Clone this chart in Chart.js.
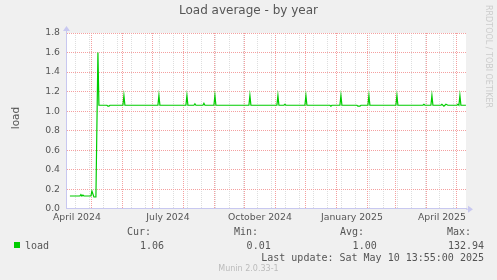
<!DOCTYPE html>
<html>
<head>
<meta charset="utf-8">
<script src="https://cdn.jsdelivr.net/npm/chart.js@4.4.1/dist/chart.umd.min.js"></script>
<style>
  html, body { margin: 0; padding: 0; background: #f0f0f0; }
  #wrap { position: relative; width: 497px; height: 280px; overflow: hidden; background: #f0f0f0; }
  #wrap canvas { position: absolute; left: 0; top: 0; }
  .txt { position: absolute; white-space: pre; color: #555; }
  .sans { font-family: 'DejaVu Sans', sans-serif; }
  .mono { font-family: 'DejaVu Sans Mono', monospace; font-size: 10px; line-height: 12px; }
</style>
</head>
<body>
<div id="wrap">
  <canvas id="loadChart" width="497" height="280"></canvas>
  <div class="txt sans" id="title" style="left:0;width:497px;text-align:center;top:3px;font-size:12px;line-height:14px;">Load average - by year</div>
  <div class="txt sans" style="left:4px;top:112px;font-size:10.5px;line-height:12px;transform:rotate(-90deg);transform-origin:50% 50%;">load</div>
  <div class="txt sans" style="left:484px;top:5px;font-size:8px;color:#ccc;writing-mode:vertical-rl;">RRDTOOL / TOBI OETIKER</div>

  <div style="position:absolute;left:14px;top:242px;width:6px;height:6px;background:#00cc00;"></div>
  <div class="txt mono" style="left:25px;top:239.7px;">load</div>
  <div class="txt mono" style="left:127px;top:226.3px;">Cur:</div>
  <div class="txt mono" style="right:333px;top:239.7px;">1.06</div>
  <div class="txt mono" style="left:234px;top:226.3px;">Min:</div>
  <div class="txt mono" style="right:226.3px;top:239.7px;">0.01</div>
  <div class="txt mono" style="left:340px;top:226.3px;">Avg:</div>
  <div class="txt mono" style="right:120.3px;top:239.7px;">1.00</div>
  <div class="txt mono" style="left:447px;top:226.3px;">Max:</div>
  <div class="txt mono" style="right:13px;top:239.7px;">132.94</div>
  <div class="txt mono" style="right:13px;top:251.7px;">Last update: Sat May 10 13:55:00 2025</div>
  <div class="txt sans" style="left:0;width:497px;text-align:center;top:264px;font-size:8px;line-height:10px;color:#bbb;">Munin 2.0.33-1</div>
</div>
<script>
// load average, daily points (date, value)
const dates = [
  '2024-04-09', '2024-04-19', '2024-04-20', '2024-04-21', '2024-04-22', '2024-04-23',
  '2024-04-30', '2024-05-01', '2024-05-03', '2024-05-05', '2024-05-07', '2024-05-08',
  '2024-05-16', '2024-05-17', '2024-05-18', '2024-05-19',
  '2024-06-01', '2024-06-02', '2024-06-03',
  '2024-07-06', '2024-07-07', '2024-07-08',
  '2024-08-03', '2024-08-04', '2024-08-05',
  '2024-08-11', '2024-08-12', '2024-08-13',
  '2024-08-20', '2024-08-21', '2024-08-22',
  '2024-08-31', '2024-09-01', '2024-09-02',
  '2024-10-05', '2024-10-06', '2024-10-07',
  '2024-11-02', '2024-11-03', '2024-11-04',
  '2024-11-09', '2024-11-10', '2024-11-11',
  '2024-11-30', '2024-12-01', '2024-12-02',
  '2024-12-25', '2024-12-26', '2024-12-27',
  '2025-01-04', '2025-01-05', '2025-01-06',
  '2025-01-21', '2025-01-22', '2025-01-24', '2025-01-25',
  '2025-02-01', '2025-02-02', '2025-02-03',
  '2025-03-01', '2025-03-02', '2025-03-03',
  '2025-03-28', '2025-03-29', '2025-03-30',
  '2025-04-05', '2025-04-06', '2025-04-07',
  '2025-04-15', '2025-04-16', '2025-04-18', '2025-04-20', '2025-04-22', '2025-04-23',
  '2025-05-01', '2025-05-02', '2025-05-03', '2025-05-04', '2025-05-05', '2025-05-10'
];
const loadValues = [
  0.13, 0.13, 0.145, 0.13, 0.14, 0.13,
  0.13, 0.18, 0.12, 0.12, 1.60, 1.06,
  1.06, 1.05, 1.05, 1.06,
  1.06, 1.16, 1.06,
  1.06, 1.16, 1.06,
  1.06, 1.16, 1.06,
  1.06, 1.075, 1.06,
  1.06, 1.08, 1.06,
  1.06, 1.16, 1.06,
  1.06, 1.16, 1.06,
  1.06, 1.16, 1.06,
  1.06, 1.07, 1.06,
  1.06, 1.16, 1.06,
  1.06, 1.05, 1.06,
  1.06, 1.16, 1.06,
  1.06, 1.05, 1.05, 1.06,
  1.06, 1.16, 1.06,
  1.06, 1.16, 1.06,
  1.06, 1.07, 1.06,
  1.06, 1.16, 1.06,
  1.06, 1.07, 1.05, 1.07, 1.06, 1.06,
  1.06, 1.07, 1.06, 1.16, 1.06, 1.06
];

// x axis labels (month, text)
const labelMonths = ['2024-04', '2024-07', '2024-10', '2025-01', '2025-04'];
const labelTexts = ['April 2024', 'July 2024', 'October 2024', 'January 2025', 'April 2025'];
// y axis ticks
const yMax = 1.8;
const yStep = 0.1;

const DAY = 86400000;
const END = new Date(2025, 4, 10, 13, 55);
const START = new Date(END.getTime() - 400 * DAY);
const dayOf = d => (d.getTime() - START.getTime()) / DAY;
const parseDay = s => { const p = s.split('-').map(Number); return new Date(p[0], p[1] - 1, p[2] || 1, 12); };

// tick kinds on the time axis
const tickKind = new Map();
const xTicks = [];
for (let d = new Date(START.getFullYear(), START.getMonth() + 1, 1); d < END; d = new Date(d.getFullYear(), d.getMonth() + 1, 1)) {
  const v = dayOf(d); xTicks.push(v); tickKind.set(v, 'major');
}
for (let d = new Date(2024, 3, 15); d < END; d = new Date(d.getTime() + 14 * DAY)) {
  const v = dayOf(d); if (v > 0) { xTicks.push(v); tickKind.set(v, 'minor'); }
}
labelMonths.forEach((m, i) => {
  const p = m.split('-').map(Number);
  const v = dayOf(new Date(p[0], p[1] - 1, 16, 12));
  xTicks.push(v); tickKind.set(v, labelTexts[i]);
});

const points = dates.map((s, i) => ({ x: dayOf(parseDay(s)), y: loadValues[i] }));

const AXIS = '#c8c8f0';
const MAJOR = '#f4a0a0';
const MINOR = '#dedede';

const arrows = {
  id: 'arrows',
  afterDraw(chart) {
    const { ctx, chartArea: a } = chart;
    ctx.save();
    ctx.fillStyle = AXIS;
    ctx.strokeStyle = AXIS;
    ctx.lineWidth = 1;
    ctx.beginPath();
    ctx.moveTo(a.left + 0.5, a.top); ctx.lineTo(a.left + 0.5, a.top - 3);
    ctx.moveTo(a.right, a.bottom + 0.5); ctx.lineTo(a.right + 3, a.bottom + 0.5);
    ctx.stroke();
    ctx.beginPath();
    ctx.moveTo(a.left + 0.5, a.top - 7); ctx.lineTo(a.left - 3, a.top - 2); ctx.lineTo(a.left + 4, a.top - 2);
    ctx.closePath(); ctx.fill();
    ctx.beginPath();
    ctx.moveTo(a.right + 7, a.bottom + 0.5); ctx.lineTo(a.right + 2, a.bottom - 3); ctx.lineTo(a.right + 2, a.bottom + 4);
    ctx.closePath(); ctx.fill();
    ctx.restore();
  }
};

const plotBg = {
  id: 'plotBg',
  beforeDraw(chart) {
    const { ctx, chartArea: a } = chart;
    ctx.save();
    ctx.fillStyle = '#ffffff';
    ctx.fillRect(a.left, a.top, a.right - a.left, a.bottom - a.top);
    ctx.restore();
  }
};

new Chart(document.getElementById('loadChart'), {
  type: 'line',
  data: {
    datasets: [{
      label: 'load',
      data: points,
      borderColor: '#00cc00',
      borderWidth: 1.2,
      pointRadius: 0,
      tension: 0,
      fill: false
    }]
  },
  options: {
    responsive: false,
    devicePixelRatio: 1,
    animation: false,
    layout: { padding: { left: 0, top: 33, right: 31, bottom: 51.3 } },
    plugins: { legend: { display: false }, tooltip: { enabled: false } },
    scales: {
      x: {
        type: 'linear',
        min: 0,
        max: 400,
        afterFit: s => { s.height = 20; },
        afterBuildTicks: s => { s.ticks = xTicks.map(v => ({ value: v })); },
        grid: {
          drawTicks: false,
          color: c => {
            const k = tickKind.get(c.tick && c.tick.value);
            return k === 'major' ? MAJOR : k === 'minor' ? MINOR : 'rgba(0,0,0,0)';
          }
        },
        border: { color: AXIS, dash: [1, 1] },
        ticks: {
          autoSkip: false,
          maxRotation: 0,
          padding: 3,
          color: '#555',
          font: { family: 'DejaVu Sans', size: 9.3 },
          callback: v => {
            const k = tickKind.get(v);
            return k && k !== 'major' && k !== 'minor' ? k : '';
          }
        }
      },
      y: {
        min: 0,
        max: yMax,
        afterFit: s => { s.width = 66; },
        afterBuildTicks: s => {
          const t = [];
          for (let i = 0; i <= Math.round(yMax / yStep); i++) t.push({ value: i * yStep });
          s.ticks = t;
        },
        grid: {
          drawTicks: false,
          color: c => (Math.round(c.tick.value / yStep) % 2 === 0 ? MAJOR : MINOR)
        },
        border: { color: AXIS, dash: [1, 1] },
        ticks: {
          padding: 6,
          color: '#555',
          font: { family: 'DejaVu Sans', size: 9.3 },
          callback: v => (Math.round(v / yStep) % 2 === 0 ? v.toFixed(1) : '')
        }
      }
    }
  },
  plugins: [plotBg, arrows]
});
</script>
</body>
</html>
